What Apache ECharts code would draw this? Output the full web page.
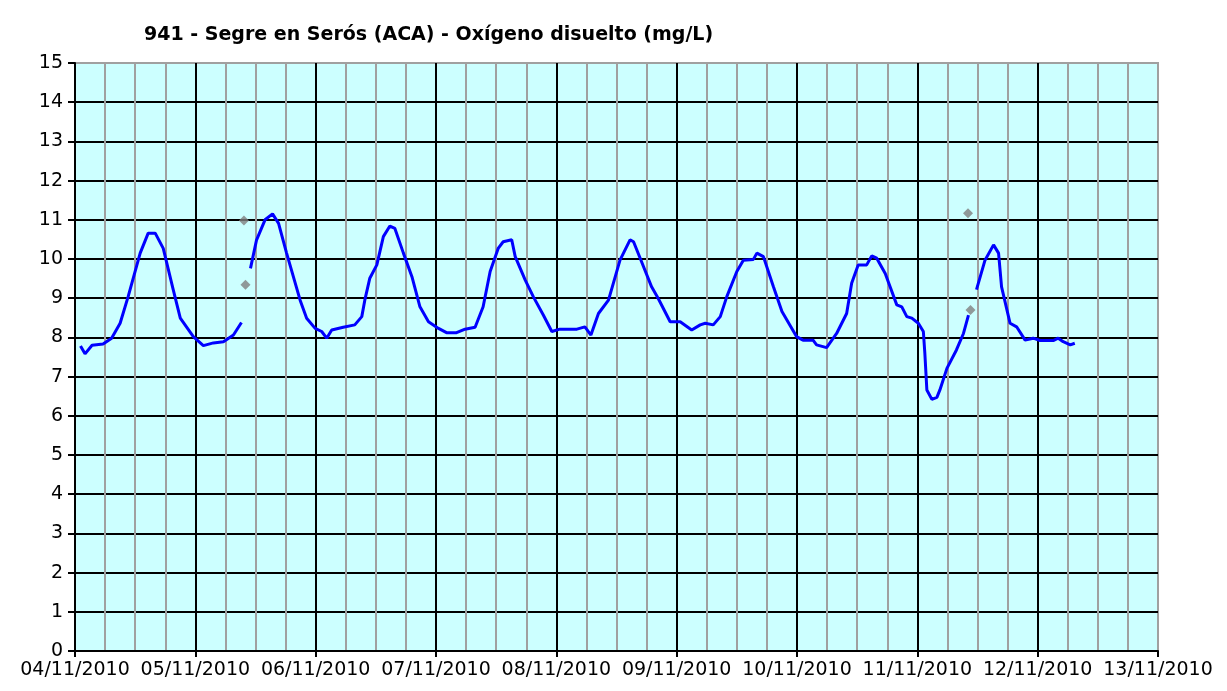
<!DOCTYPE HTML>
<html>
    <head>
        <meta charset="UTF-8">
        <title>941 - Segre en Serós (ACA)</title>
        <style>
            html,body{margin:0;width:100%;height:100%;background:#fff;}
            #wrap{width:1227px;height:691px;}
        </style>
    </head>
    <body>
        <div id="wrap"></div>
        <script src="https://cdn.jsdelivr.net/npm/echarts@6/dist/echarts.min.js"></script>
        <script>
            // hours since 04/11/2010 00:00, null = gap in the record
            let hours = [1.1, 2.0, 3.4, 5.6, 7.3, 9.0, 10.6, 13.0, 14.6, 16.0, 17.6, 19.6, 21.0, 23.6, 25.6, 27.6, 29.6, 31.6, 33.2,
                34.2,
                35.0, 36.2, 37.9, 39.4, 40.6, 42.2, 44.9, 46.2, 47.9, 49.2, 50.2, 51.2, 53.5, 55.8, 57.2, 57.8, 58.8, 60.2, 61.5,
                62.8, 63.8, 65.5, 67.2, 68.8, 70.5, 72.5, 74.1, 76.1, 77.8, 79.8, 81.4, 82.8, 84.4, 85.4, 87.1, 87.8, 89.8, 91.4,
                93.4, 95.1, 96.7, 100.1, 101.7, 102.9, 104.4, 106.4, 108.7, 110.7, 111.4, 113.0, 115.0, 116.3, 118.7, 120.7, 123.0,
                124.7, 125.7, 127.3, 128.7, 130.0, 132.0, 133.3, 135.3, 136.0, 137.3, 139.3, 141.0, 143.9, 145.2, 147.2, 147.9,
                149.9, 151.9, 153.9, 154.9, 156.2, 157.9, 158.9, 159.9, 161.6, 162.2, 163.9, 164.9, 165.9, 166.9, 168.2, 169.2,
                169.5, 169.9, 170.9, 171.9, 172.5, 173.9, 175.8, 177.2, 178.2,
                179.0,
                179.8, 181.5, 183.2, 184.2, 184.8, 186.5, 187.8, 189.5, 191.1, 192.5, 195.1, 196.1, 197.1, 198.5, 199.4];
            let oxygen = [7.78, 7.58, 7.80, 7.83, 7.98, 8.36, 9.04, 10.15, 10.66, 10.66, 10.27, 9.21, 8.49, 8.02, 7.79, 7.86, 7.89, 8.06, 8.38,
                null,
                9.76, 10.48, 11.0, 11.15, 10.91, 10.15, 8.95, 8.49, 8.23, 8.15, 7.98, 8.19, 8.26, 8.32, 8.53, 8.95, 9.51, 9.85, 10.57,
                10.84, 10.78, 10.15, 9.55, 8.78, 8.40, 8.23, 8.12, 8.12, 8.21, 8.26, 8.78, 9.68, 10.27, 10.44, 10.49, 10.06, 9.46, 9.04,
                8.57, 8.15, 8.21, 8.21, 8.27, 8.06, 8.61, 8.95, 9.97, 10.49, 10.44, 9.93, 9.29, 9.0, 8.40, 8.40, 8.19,
                8.32, 8.36, 8.32, 8.53, 9.04, 9.68, 9.97, 9.99, 10.15, 10.06, 9.29, 8.66, 8.02, 7.93, 7.93, 7.81,
                7.74, 8.10, 8.61, 9.38, 9.85, 9.85, 10.08, 10.02, 9.63, 9.42, 8.83, 8.78, 8.53, 8.49, 8.36, 8.15,
                7.59, 6.66, 6.42, 6.47, 6.66, 7.21, 7.68, 8.10, 8.57,
                null,
                9.22, 9.97, 10.36, 10.15, 9.29, 8.36, 8.27, 7.93, 7.98, 7.92, 7.92, 7.98, 7.89, 7.81, 7.85];

            // isolated readings (grey diamonds)
            let pointHours = [33.7, 34.0, 178.1, 178.6];
            let pointValues = [10.98, 9.34, 11.17, 8.70];

            let dateLabels = ['04/11/2010', '05/11/2010', '06/11/2010', '07/11/2010', '08/11/2010',
                '09/11/2010', '10/11/2010', '11/11/2010', '12/11/2010', '13/11/2010'];

            let lineData = hours.map((h, i) => [h, oxygen[i] === null ? '-' : oxygen[i]]);
            let pointData = pointHours.map((h, i) => [h, pointValues[i]]);

            let font = 'DejaVu Sans';
            let mycharts = echarts.init(document.getElementById('wrap'));

            let options = {
                animation: false,
                backgroundColor: '#fff',
                title: {
                    text: '941 - Segre en Serós (ACA) - Oxígeno disuelto (mg/L)',
                    left: 139,
                    top: 21,
                    textStyle: {
                        color: '#000',
                        fontFamily: font,
                        fontSize: 19,
                        fontWeight: 'bold'
                    }
                },
                grid: {
                    left: 75,
                    right: 69,
                    top: 63,
                    bottom: 40,
                    show: true,
                    backgroundColor: '#ccffff',
                    borderColor: '#a0a0a0',
                    borderWidth: 2
                },
                xAxis: {
                    type: 'value',
                    min: 0,
                    max: 216,
                    interval: 24,
                    axisLine: {lineStyle: {color: '#000', width: 2}},
                    axisTick: {show: true, length: 6, lineStyle: {color: '#000', width: 2}},
                    minorTick: {show: false, splitNumber: 4},
                    axisLabel: {
                        color: '#000',
                        fontFamily: font,
                        fontSize: 19,
                        margin: 10,
                        formatter: function (v) {
                            return dateLabels[Math.round(v / 24)];
                        }
                    },
                    splitLine: {show: true, showMaxLine: false, lineStyle: {color: '#000', width: 2}},
                    minorSplitLine: {show: true, lineStyle: {color: '#a0a0a0', width: 2}}
                },
                yAxis: {
                    type: 'value',
                    min: 0,
                    max: 15,
                    interval: 1,
                    axisLine: {show: true, lineStyle: {color: '#000', width: 2}},
                    axisTick: {show: true, length: 7, lineStyle: {color: '#000', width: 2}},
                    axisLabel: {
                        color: '#000',
                        fontFamily: font,
                        fontSize: 19,
                        margin: 12
                    },
                    splitLine: {show: true, showMaxLine: false, lineStyle: {color: '#000', width: 2}}
                },
                series: [
                    {
                        type: 'line',
                        data: lineData,
                        showSymbol: false,
                        connectNulls: false,
                        lineStyle: {color: '#0000ff', width: 3},
                        itemStyle: {color: '#0000ff'}
                    },
                    {
                        type: 'scatter',
                        data: pointData,
                        symbol: 'diamond',
                        symbolSize: 10,
                        itemStyle: {color: '#808080'}
                    }
                ]
            };

            mycharts.setOption(options);
        </script>
    </body>
</html>
